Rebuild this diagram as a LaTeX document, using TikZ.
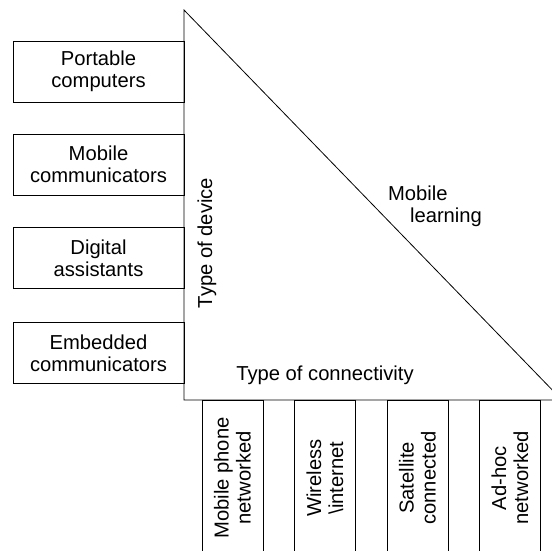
\documentclass[tikz,border=0pt]{standalone}
\usepackage{fontspec}
\setmainfont{Liberation Sans}
\begin{document}
\begin{tikzpicture}[x=1pt,y=-1pt,
  every node/.style={font=\fontsize{20.2}{22}\selectfont},
  devbox/.style={draw,line width=0.8pt,minimum width=171pt,minimum height=61pt,align=center,inner sep=0pt},
  conbox/.style={draw,line width=0.8pt,rotate=90,minimum width=156pt,minimum height=61pt,align=center,inner sep=0pt},
  lbl/.style={inner sep=0pt,align=left}]
\useasboundingbox (0,0) rectangle (552,550);
\clip (0,0) rectangle (552,550);
\fill[white] (0,0) rectangle (552,550);
\coordinate (apex) at (184,10);
\coordinate (bl) at (184,400);
\coordinate (br) at (562,400);
\draw[line width=0.8pt] (apex) -- (br) -- (bl) -- cycle;
\node[devbox] (pc) at (98.5,71.5) {Portable\\computers};
\node[devbox] (mc) at (98.5,164.5) {Mobile\\communicators};
\node[devbox] (da) at (98.5,258) {Digital\\assistants};
\node[devbox] (ec) at (98.5,353) {Embedded\\communicators};
\node[conbox] (mp) at (232.5,478) {Mobile phone\\networked};
\node[conbox] (wi) at (325,478) {Wireless\\\textbackslash internet};
\node[conbox] (sc) at (417.5,478) {Satellite\\connected};
\node[conbox] (ah) at (510,478) {Ad-hoc\\networked};
\node[lbl,rotate=90] (tod) at (207,243) {Type of device};
\node[lbl] (toc) at (325,375) {Type of connectivity};
\node[lbl] (ml) at (435,206) {Mobile\\\hspace*{22pt}learning};
\end{tikzpicture}
\end{document}
